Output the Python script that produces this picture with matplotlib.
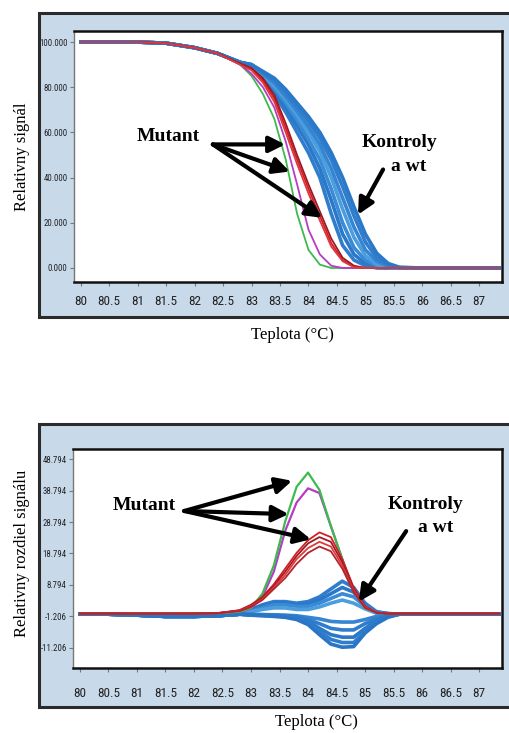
import matplotlib.pyplot as plt
from matplotlib.patches import Rectangle

# temperature grid (°C) used by both panels
temp = [80, 80.5, 81, 81.5, 82, 82.4, 82.8, 83.0, 83.2, 83.4, 83.6, 83.8, 84.0,
        84.2, 84.4, 84.6, 84.8, 85.0, 85.2, 85.4, 85.6, 86, 86.5, 87, 87.35]

# --- top panel: melting curves (Relativny signál)
green_melt = [100, 100, 100, 99.5, 97.5, 95, 90, 85, 77, 66, 48, 24, 8,
              1.5, 0, 0, 0, 0, 0, 0, 0, 0, 0, 0, 0]
purple_melt = [100, 100, 100, 99.5, 97.5, 95, 90, 86, 80, 71, 56, 37, 17,
               6, 1, 0, 0, 0, 0, 0, 0, 0, 0, 0, 0]
red_melt_1 = [100, 100, 100, 99.5, 97.5, 95, 90.5, 88, 83, 75, 62, 48, 35,
              23, 11, 3.5, 0.5, 0, 0, 0, 0, 0, 0, 0, 0]
red_melt_2 = [100, 100, 100, 99.5, 97.5, 95, 90.5, 88.5, 84, 76.5, 64, 50, 37,
              25, 13, 4.5, 1, 0, 0, 0, 0, 0, 0, 0, 0]
red_melt_3 = [100, 100, 100, 99.5, 97.5, 95, 90, 87.5, 82, 73.5, 60, 46, 33,
              21, 9.5, 3, 0.3, 0, 0, 0, 0, 0, 0, 0, 0]
blue_melt_1 = [100, 100, 100, 99.5, 97.5, 95, 91, 89, 84, 77, 69, 60, 51,
               40, 24, 10, 3.5, 1, 0, 0, 0, 0, 0, 0, 0]
blue_melt_2 = [100, 100, 100, 99.5, 97.5, 95, 91, 89, 84.5, 78, 71, 63, 54.5,
               44, 30, 15, 6, 2, 0.3, 0, 0, 0, 0, 0, 0]
blue_melt_3 = [100, 100, 100, 99.5, 97.5, 95, 91, 89.5, 85, 79.5, 73, 65.5, 57,
               48, 35, 20, 9, 3.5, 1, 0, 0, 0, 0, 0, 0]
blue_melt_4 = [100, 100, 100, 99.5, 97.5, 95, 91, 89.5, 85.5, 80.5, 74.5, 67.5, 60,
               51.5, 40, 26, 13.5, 5.5, 1.5, 0.3, 0, 0, 0, 0, 0]
blue_melt_5 = [100, 100, 100, 99.5, 97.5, 95, 91, 90, 86, 82, 76, 69.5, 62.5,
               54.5, 44, 31, 18, 8, 3, 0.8, 0, 0, 0, 0, 0]
blue_melt_6 = [100, 100, 100, 99.5, 97.5, 95, 91, 90, 86.5, 83, 77.5, 71.5, 65,
               57.5, 48, 36, 23, 11.5, 4.5, 1.3, 0.2, 0, 0, 0, 0]
blue_melt_7 = [100, 100, 100, 99.5, 97.5, 95, 91, 90, 87, 84, 79, 73, 67,
               60, 51, 40, 27, 15, 6.5, 2, 0.3, 0, 0, 0, 0]

# --- bottom panel: difference curves (Relativny rozdiel signálu)
green_diff = [-0.3, -0.3, -0.3, -0.3, -0.3, -0.2, 0.3, 1.5, 6, 15, 29, 40, 44.5,
              39, 27.5, 17, 7, 1.5, 0, -0.3, -0.3, -0.3, -0.3, -0.3, -0.3]
purple_diff = [-0.3, -0.3, -0.3, -0.3, -0.3, -0.2, 0.3, 1.3, 5, 13, 26, 35, 39.5,
               38, 27.5, 17, 7, 1.5, 0, -0.3, -0.3, -0.3, -0.3, -0.3, -0.3]
red_diff_1 = [-0.3, -0.3, -0.3, -0.3, -0.3, -0.2, 0.8, 2.5, 5, 9, 14, 19, 23,
              25.5, 24, 17, 8, 2, 0, -0.3, -0.3, -0.3, -0.3, -0.3, -0.3]
red_diff_2 = [-0.3, -0.3, -0.3, -0.3, -0.3, -0.2, 0.7, 2.3, 4.7, 8.5, 13, 18, 22,
              24, 22.5, 16, 7.5, 2, 0, -0.3, -0.3, -0.3, -0.3, -0.3, -0.3]
red_diff_3 = [-0.3, -0.3, -0.3, -0.3, -0.3, -0.2, 0.6, 2, 4.3, 8, 12, 17, 20.5,
              22.5, 21, 15, 7, 1.8, 0, -0.3, -0.3, -0.3, -0.3, -0.3, -0.3]
red_diff_4 = [-0.3, -0.3, -0.3, -0.3, -0.3, -0.2, 0.5, 1.8, 4, 7.5, 11, 15.5, 19,
              21, 19.5, 14, 6.5, 1.5, 0, -0.3, -0.3, -0.3, -0.3, -0.3, -0.3]
blue_diff_1 = [-0.5, -0.5, -0.8, -1.2, -1.2, -1.0, -0.5, 1, 2.5, 3.5, 3.5, 3, 3.5,
               5, 7.5, 10, 8, 3, 0.3, -0.3, -0.5, -0.5, -0.5, -0.5, -0.5]
blue_diff_2 = [-0.5, -0.5, -0.8, -1.2, -1.2, -1.0, -0.5, 0.8, 2, 3, 3, 2.5, 2.8,
               4, 6, 8, 6.5, 2.5, 0.2, -0.3, -0.5, -0.5, -0.5, -0.5, -0.5]
blue_diff_3 = [-0.5, -0.5, -0.8, -1.2, -1.2, -1.0, -0.5, 0.5, 1.5, 2.5, 2.5, 2, 2,
               3, 4.5, 6, 5, 2, 0, -0.5, -0.5, -0.5, -0.5, -0.5, -0.5]
blue_diff_4 = [-0.5, -0.5, -0.8, -1.2, -1.2, -1.0, -0.5, 0.3, 1, 1.5, 1.5, 1, 1,
               1.8, 3, 4, 3, 1.2, -0.2, -0.5, -0.5, -0.5, -0.5, -0.5, -0.5]
blue_diff_5 = [-0.5, -0.5, -0.8, -1.2, -1.2, -1.0, -0.5, -0.5, -0.6, -0.7, -0.8, -1, -1.5,
               -2, -2.8, -3, -3, -2.2, -1.2, -0.6, -0.5, -0.5, -0.5, -0.5, -0.5]
blue_diff_6 = [-0.5, -0.5, -0.8, -1.2, -1.2, -1.0, -0.5, -0.6, -0.7, -0.8, -1, -1.3, -2.2,
               -3.5, -5, -5.5, -5.5, -3.5, -2, -0.9, -0.5, -0.5, -0.5, -0.5, -0.5]
blue_diff_7 = [-0.5, -0.5, -0.8, -1.2, -1.2, -1.0, -0.5, -0.7, -0.8, -0.9, -1.2, -1.6, -2.8,
               -5, -7, -7.8, -7.8, -5, -2.6, -1.1, -0.5, -0.5, -0.5, -0.5, -0.5]
blue_diff_8 = [-0.5, -0.5, -0.8, -1.2, -1.2, -1.0, -0.5, -0.8, -0.9, -1, -1.3, -1.9, -3.3,
               -6, -8.5, -9.5, -9.5, -6, -3, -1.3, -0.5, -0.5, -0.5, -0.5, -0.5]
blue_diff_9 = [-0.5, -0.5, -0.8, -1.2, -1.2, -1.0, -0.5, -0.8, -1, -1.2, -1.5, -2.2, -3.8,
               -7, -10, -11, -10.8, -6.5, -3.5, -1.5, -0.5, -0.5, -0.5, -0.5, -0.5]

x_ticks = [80, 80.5, 81, 81.5, 82, 82.5, 83, 83.5, 84, 84.5, 85, 85.5, 86, 86.5, 87]
x_tick_labels = ['80', '80.5', '81', '81.5', '82', '82.5', '83', '83.5', '84',
                 '84.5', '85', '85.5', '86', '86.5', '87']
top_y_ticks = [0, 20, 40, 60, 80, 100]
top_y_labels = ['0.000', '20.000', '40.000', '60.000', '80.000', '100.000']
bot_y_ticks = [-11.206, -1.206, 8.794, 18.794, 28.794, 38.794, 48.794]
bot_y_labels = ['-11.206', '-1.206', '8.794', '18.794', '28.794', '38.794', '48.794']

GREEN = '#3dba4e'
PURPLE = '#b63cc4'
REDS = ['#d21f26', '#9e1a22', '#e0383c', '#b5232d']
BLUES = ['#2f7dcc', '#2a78c8', '#3a8ad6', '#4a9ede', '#3585d2', '#2f7dcc',
         '#2a78c8', '#2f7dcc', '#2a76c6']
FRAME = '#c8d9ea'
tick_font = ['Roboto Condensed', 'DejaVu Sans']
serif = 'Liberation Serif'

W, H = 510, 733
fig = plt.figure(figsize=(5.1, 7.33), dpi=100)


def box(x0, y0, x1, y1):
    # pixel box (top-left origin) -> figure fraction rect
    return [x0 / W, 1 - y1 / H, (x1 - x0) / W, (y1 - y0) / H]


def frame(x0, y0, x1, y1):
    r = Rectangle((x0 / W, 1 - y1 / H), (x1 - x0) / W, (y1 - y0) / H,
                  transform=fig.transFigure, facecolor=FRAME,
                  edgecolor='#2b2b2b', lw=2.2, zorder=-5)
    fig.patches.append(r)


def style_axes(ax, yticks, ylabels, xpad):
    ax.set_xticks(x_ticks)
    ax.set_xticklabels(x_tick_labels)
    ax.set_yticks(yticks)
    ax.set_yticklabels(ylabels)
    ax.tick_params(axis='x', length=3, width=0.8, color='#777777', pad=xpad,
                   labelsize=9.5, labelcolor='#222222')
    ax.tick_params(axis='y', length=3, width=0.8, color='#777777', pad=1.5,
                   labelsize=6.3, labelcolor='#222222')
    for lbl in ax.get_xticklabels() + ax.get_yticklabels():
        lbl.set_family(tick_font)
    for side in ['top', 'bottom', 'right']:
        ax.spines[side].set_linewidth(1.8)
        ax.spines[side].set_color('#111111')
    ax.spines['left'].set_linewidth(1.0)
    ax.spines['left'].set_color('#777777')


def arrow(ax, start, tip, lw=3.0):
    ax.annotate('', xy=tip, xytext=start,
                arrowprops=dict(arrowstyle='-|>', lw=lw, color='black',
                                mutation_scale=24, shrinkA=0, shrinkB=0))


# ---------------- top panel ----------------
frame(39, 13, 540, 317)
ax1 = fig.add_axes(box(74, 31, 502, 282))
for y, c in zip([blue_melt_1, blue_melt_2, blue_melt_3, blue_melt_4,
                 blue_melt_5, blue_melt_6, blue_melt_7], BLUES):
    ax1.plot(temp, y, color=c, lw=2.6, solid_joinstyle='round')
ax1.plot(temp, green_melt, color=GREEN, lw=1.3, solid_joinstyle='round')
ax1.plot(temp, purple_melt, color=PURPLE, lw=1.3, solid_joinstyle='round')
for y, c in zip([red_melt_1, red_melt_2, red_melt_3], REDS):
    ax1.plot(temp, y, color=c, lw=1.3, solid_joinstyle='round')
ax1.set_xlim(79.88, 87.4)
ax1.set_ylim(-6.2, 104.9)
style_axes(ax1, top_y_ticks, top_y_labels, xpad=6.5)

ax1.text(81.53, 58.2, 'Mutant', fontsize=14, fontweight='bold', family=serif,
         ha='center', va='center')
for tip in [(83.59, 54.7), (83.67, 42.7), (84.24, 22.2)]:
    arrow(ax1, (82.32, 54.7), tip)
ax1.text(85.59, 55.6, 'Kontroly', fontsize=14, fontweight='bold', family=serif,
         ha='center', va='center')
ax1.text(85.76, 44.9, 'a wt', fontsize=14, fontweight='bold', family=serif,
         ha='center', va='center')
arrow(ax1, (85.31, 43.6), (84.87, 23.6))

fig.text(22 / W, 1 - 157 / H, 'Relativny signál', rotation=90, fontsize=12,
         family=serif, ha='center', va='center')
fig.text(292 / W, 1 - 335 / H, 'Teplota (°C)', fontsize=12, family=serif,
         ha='center', va='center')

# ---------------- bottom panel ----------------
frame(39, 424, 540, 707)
ax2 = fig.add_axes(box(73, 449, 502, 668))
for y, c in zip([blue_diff_1, blue_diff_2, blue_diff_3, blue_diff_4, blue_diff_5,
                 blue_diff_6, blue_diff_7, blue_diff_8, blue_diff_9], BLUES):
    ax2.plot(temp, y, color=c, lw=2.6, solid_joinstyle='round')
ax2.plot(temp, purple_diff, color=PURPLE, lw=1.6, solid_joinstyle='round')
ax2.plot(temp, green_diff, color=GREEN, lw=1.6, solid_joinstyle='round')
for y, c in zip([red_diff_1, red_diff_2, red_diff_3, red_diff_4], REDS):
    ax2.plot(temp, y, color=c, lw=1.3, solid_joinstyle='round')
ax2.set_xlim(79.88, 87.4)
ax2.set_ylim(-17.6, 52.0)
style_axes(ax2, bot_y_ticks, bot_y_labels, xpad=10.5)

ax2.text(81.12, 33.9, 'Mutant', fontsize=14, fontweight='bold', family=serif,
         ha='center', va='center')
for tip in [(83.72, 41.9), (83.66, 31.3), (84.05, 23.3)]:
    arrow(ax2, (81.83, 32.3), tip)
ax2.text(86.06, 34.5, 'Kontroly', fontsize=14, fontweight='bold', family=serif,
         ha='center', va='center')
ax2.text(86.23, 27.2, 'a wt', fontsize=14, fontweight='bold', family=serif,
         ha='center', va='center')
arrow(ax2, (85.72, 25.9), (84.89, 3.5))

fig.text(22 / W, 1 - 553 / H, 'Relativny rozdiel signálu', rotation=90,
         fontsize=12, family=serif, ha='center', va='center')
fig.text(316 / W, 1 - 722 / H, 'Teplota (°C)', fontsize=12, family=serif,
         ha='center', va='center')

fig.savefig('out.png', dpi=100)
